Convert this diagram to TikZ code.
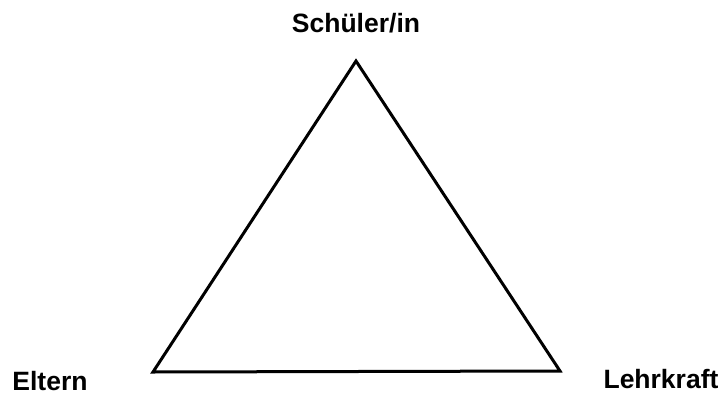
\documentclass[tikz,border=0pt]{standalone}
\usepackage{fontspec}
\setmainfont{Liberation Sans}
\usetikzlibrary{positioning}

\begin{document}
\begin{tikzpicture}[
    x=1pt, y=-1pt,
    every node/.style={align=center},
    role/.style={font=\fontsize{26.5}{30}\selectfont\bfseries, inner sep=0pt},
    edge/.style={line width=3pt, line join=miter}
]
\useasboundingbox (0,0) rectangle (721,394);

% Corners of the triangle
\coordinate (top) at (356, 61);
\coordinate (left) at (153, 372);
\coordinate (right) at (560, 371);

% Labels
\node[role] (pupil) at (356, 23) {Schüler/in};
\node[role] (parents) at (50, 381) {Eltern};
\node[role] (teacher) at (661, 379) {Lehrkraft};

% Triangle
\draw[edge] (top) -- (right) -- (left) -- cycle;

\end{tikzpicture}
\end{document}
